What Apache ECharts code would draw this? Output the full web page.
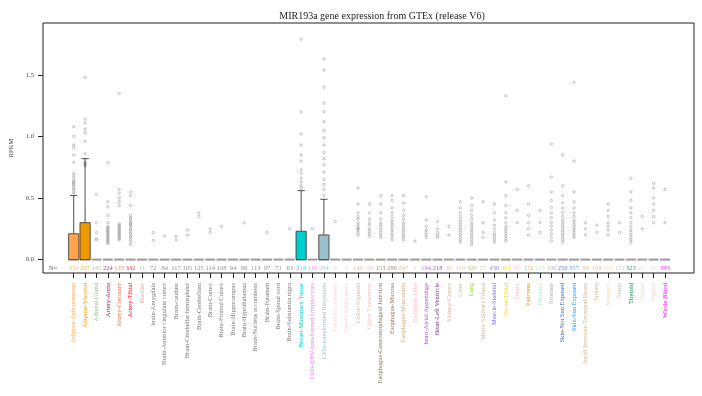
<!DOCTYPE html>
<html>
<head>
<meta charset="utf-8">
<script src="https://cdn.jsdelivr.net/npm/echarts@6/dist/echarts.min.js"></script>
<style>
  html, body { margin: 0; padding: 0; background: #fff; }
  #chart { width: 702px; height: 396px; }
</style>
</head>
<body>
<div id="chart"></div>
<script>
// Tejidos GTEx V6 y su numero de muestras
const tissues = [
  'Adipose-Subcutaneous', 'Adipose-Visceral', 'Adrenal Gland', 'Artery-Aorta', 'Artery-Coronary',
  'Artery-Tibial', 'Bladder', 'brain-Amygdala', 'Brain-Anterior cingulate cortex', 'Brain-caudate',
  'Brain-Cerebellar hemisphere', 'Brain-Cerebellum', 'Brain-Cortex', 'Brain-Frontal Cortex', 'Brain-Hippocampus',
  'Brain-Hypothalamus', 'Brain-Nucleus accumbens', 'Brain-Putamen', 'Brain-Spinal cord', 'Brain-Substantia nigra',
  'Breast-Mammary Tissue', 'Cells-EBV-transformed lymphocytes', 'Cells-transformed fibroblasts', 'Cervix-Ectocervix', 'Cervix-Endocervix',
  'Colon-Sigmoid', 'Colon-Transverse', 'Esophagus-Gastroesophageal Junction', 'Esophagus-Mucosa', 'Esophagus-Muscularis',
  'Fallopian Tube', 'heart-Atrial Appendage', 'Heart-Left Ventricle', 'Kidney-Cortex', 'Liver',
  'Lung', 'Minor Salivary Gland', 'Muscle-Skeletal', 'Nerve-Tibial', 'Ovary',
  'Pancreas', 'Pituitary', 'Prostate', 'Skin-Not Sun Exposed', 'Skin-Sun Exposed',
  'Small Intestine-Terminal Ileum', 'Spleen', 'Stomach', 'Testis', 'Thyroid',
  'Uterus', 'Vagina', 'Whole Blood'
];
const sampleN = [
  350, 227, 145, 224, 133, 332, 11, 72, 84, 117,
  105, 125, 114, 108, 94, 96, 113, 97, 71, 63,
  214, 118, 284, 6, 5, 149, 196, 153, 286, 247,
  6, 194, 218, 32, 119, 320, 57, 430, 304, 97,
  171, 103, 106, 250, 357, 88, 104, 193, 172, 323,
  83, 96, 393
];
const tissueColors = [
  '#FFA54F', '#EE9A00', '#8FBC8F', '#8B1C62', '#EE6A50',
  '#FF0000', '#CDB79E', '#777777', '#777777', '#777777',
  '#777777', '#777777', '#777777', '#777777', '#777777',
  '#777777', '#777777', '#777777', '#777777', '#777777',
  '#00CDCD', '#EE82EE', '#9AC0CD', '#EED5D2', '#EED5D2',
  '#CDB79E', '#EEC5C1', '#8B7355', '#8B7355', '#CDAA7D',
  '#FFB6C1', '#B452CD', '#7A378B', '#CDB79E', '#CDB79E',
  '#9ACD32', '#CDB79E', '#7A67EE', '#FFD700', '#FFB6C1',
  '#CD9B1D', '#B4EEB4', '#A9A9A9', '#3A5FCD', '#1E90FF',
  '#CDB79E', '#CDB79E', '#FFD39B', '#C0C0C0', '#008B45',
  '#EED5D2', '#EED5D2', '#FF00FF'
];
// Media (RPKM) y extremo de la barra de error, solo donde hay barra
const meanRPKM = { 0: 0.21, 1: 0.30, 20: 0.23, 22: 0.20 };
const errorTop = { 0: 0.52, 1: 0.82, 20: 0.56, 22: 0.49 };
// Puntos individuales por tejido
const outliers = [
  [1.08, 1.0, 0.93, 0.91, 0.85, 0.79, 0.70, 0.68, 0.66, 0.64, 0.63, 0.62, 0.61, 0.60, 0.58, 0.57, 0.55, 0.54],
  [1.48, 1.14, 1.11, 1.06, 1.03, 0.96, 0.86, 0.79, 0.78, 0.77, 0.76],
  [0.53, 0.30, 0.22, 0.17, 0.16],
  [0.79, 0.47, 0.43, 0.36, 0.30, 0.27, 0.26, 0.25, 0.24, 0.23, 0.22, 0.21, 0.20, 0.19, 0.18, 0.17, 0.16, 0.15, 0.14, 0.13],
  [1.35, 0.57, 0.54, 0.50, 0.47, 0.44, 0.29, 0.28, 0.27, 0.26, 0.25, 0.24, 0.23, 0.22, 0.21, 0.20, 0.19, 0.18, 0.17, 0.16],
  [0.55, 0.52, 0.44, 0.36, 0.34, 0.33, 0.31, 0.30, 0.29, 0.28, 0.27, 0.25, 0.24, 0.22, 0.21, 0.19, 0.18, 0.16, 0.14, 0.12],
  [],
  [0.22, 0.155],
  [0.19],
  [0.19, 0.16],
  [0.24, 0.20],
  [0.38, 0.35],
  [0.25, 0.22],
  [0.27],
  [],
  [0.30],
  [],
  [0.22],
  [],
  [0.25],
  [1.79, 1.20, 1.02, 0.93, 0.85, 0.80, 0.73, 0.70, 0.66, 0.63, 0.60, 0.58],
  [0.25],
  [1.63, 1.54, 1.40, 1.27, 1.20, 1.12, 1.05, 0.99, 0.93, 0.87, 0.82, 0.77, 0.71, 0.65, 0.61, 0.57, 0.52],
  [0.31],
  [],
  [0.58, 0.45, 0.38, 0.35, 0.33, 0.30, 0.28, 0.26, 0.25, 0.24, 0.22, 0.20],
  [0.45, 0.38, 0.33, 0.30, 0.28, 0.25, 0.23, 0.21, 0.19],
  [0.52, 0.45, 0.38, 0.33, 0.30, 0.28, 0.26, 0.24, 0.22, 0.20, 0.18],
  [0.52, 0.48, 0.42, 0.38, 0.35, 0.32, 0.30, 0.28, 0.26, 0.24, 0.22, 0.20, 0.18, 0.16],
  [0.52, 0.46, 0.40, 0.36, 0.33, 0.30, 0.28, 0.26, 0.24, 0.22, 0.20, 0.18, 0.16],
  [0.15],
  [0.51, 0.32, 0.27, 0.24, 0.22, 0.20, 0.18],
  [0.31, 0.25, 0.22, 0.20, 0.18],
  [0.27, 0.20],
  [0.47, 0.42, 0.38, 0.35, 0.32, 0.30, 0.28, 0.26, 0.24, 0.22, 0.20, 0.18, 0.16, 0.14],
  [0.50, 0.44, 0.40, 0.36, 0.33, 0.30, 0.28, 0.26, 0.24, 0.22, 0.20, 0.18, 0.16, 0.14, 0.12],
  [0.47, 0.30, 0.22, 0.18],
  [0.45, 0.38, 0.32, 0.28, 0.25, 0.22, 0.20, 0.18, 0.16, 0.14],
  [1.33, 0.63, 0.52, 0.44, 0.38, 0.34, 0.30, 0.27, 0.25, 0.23, 0.21, 0.19, 0.17, 0.15],
  [0.57, 0.40, 0.30],
  [0.60, 0.45, 0.36, 0.30, 0.25, 0.20],
  [0.40, 0.30, 0.22],
  [0.94, 0.67, 0.55, 0.48, 0.42, 0.38, 0.34, 0.30, 0.27, 0.24, 0.21, 0.18, 0.15],
  [0.85, 0.60, 0.52, 0.46, 0.42, 0.38, 0.35, 0.32, 0.30, 0.28, 0.26, 0.24, 0.22, 0.20, 0.18, 0.16, 0.14],
  [1.44, 0.80, 0.55, 0.47, 0.42, 0.38, 0.35, 0.32, 0.30, 0.28, 0.26, 0.24, 0.22, 0.20, 0.18],
  [0.30, 0.25, 0.20],
  [0.28, 0.22],
  [0.45, 0.40, 0.35, 0.30, 0.27, 0.24, 0.20],
  [0.30, 0.22],
  [0.66, 0.55, 0.48, 0.42, 0.38, 0.34, 0.30, 0.27, 0.24, 0.22, 0.20, 0.18, 0.16, 0.14],
  [0.35, 0.25],
  [0.62, 0.58, 0.50, 0.45, 0.40, 0.35, 0.30],
  [0.57, 0.30]
];
const yTicks = [0, 0.5, 1.0, 1.5];

const font = 'Liberation Serif';
const idx = tissues.map((t, i) => i);

const barData = Object.keys(meanRPKM).map(k => [Number(k), meanRPKM[k], errorTop[k]]);
const pointData = [];
outliers.forEach((vals, i) => vals.forEach(v => pointData.push([i, v])));
const nData = sampleN.map((n, i) => ({
  value: [i, -0.07, n],
  label: { color: tissueColors[i] }
}));
nData.push({ value: [-1.8, -0.07, 'N='], label: { color: '#444' } });

const chart = echarts.init(document.getElementById('chart'));
chart.setOption({
  animation: false,
  title: {
    text: 'MIR193a gene expression from GTEx (release V6)',
    left: 377, top: 6, textAlign: 'center',
    textStyle: { fontFamily: font, fontSize: 10, fontWeight: 'normal', color: '#222' }
  },
  grid: {
    left: 42, right: 8, top: 23, bottom: 123,
    show: true, borderColor: '#222', borderWidth: 1, backgroundColor: 'transparent'
  },
  xAxis: {
    type: 'value', min: -2.7, max: 54.55,
    splitLine: { show: false },
    axisLine: { show: false, onZero: false },
    axisTick: { show: true, length: 5, customValues: idx, lineStyle: { color: '#222' } },
    axisLabel: {
      customValues: idx, rotate: 90, margin: 10,
      fontFamily: font, fontSize: 6.5,
      formatter: v => tissues[Math.round(v)] || '',
      color: v => tissueColors[Math.round(Number(v))]
    }
  },
  yAxis: {
    type: 'value', min: -0.109, max: 1.922,
    name: 'RPKM', nameLocation: 'middle', nameGap: 28, nameRotate: 90,
    nameTextStyle: { fontFamily: font, fontSize: 6.5, color: '#333' },
    splitLine: { show: false },
    axisLine: { show: false, onZero: false },
    axisTick: { show: true, length: 5, customValues: yTicks, lineStyle: { color: '#222' } },
    axisLabel: {
      customValues: yTicks, margin: 9,
      fontFamily: font, fontSize: 6.5, color: '#444',
      formatter: v => Number(v).toFixed(1)
    }
  },
  series: [
    {
      // guiones grises en cero para cada tejido
      type: 'custom',
      data: idx.map(i => [i, 0]),
      z: 1,
      renderItem: (params, api) => {
        const a = api.coord([api.value(0) - 0.44, 0]);
        const b = api.coord([api.value(0) + 0.44, 0]);
        return { type: 'rect', shape: { x: a[0], y: a[1] - 1, width: b[0] - a[0], height: 2 }, style: { fill: '#9a9a9a' } };
      }
    },
    {
      type: 'scatter',
      data: pointData,
      symbol: 'circle', symbolSize: 2.4,
      z: 2,
      itemStyle: { color: 'rgba(255,255,255,0)', borderColor: '#999999', borderWidth: 0.7 }
    },
    {
      // barras con barra de error
      type: 'custom',
      data: barData,
      z: 3,
      renderItem: (params, api) => {
        const i = api.value(0);
        const top = api.coord([i - 0.45, api.value(1)]);
        const base = api.coord([i + 0.45, 0]);
        const mid = api.coord([i, api.value(1)]);
        const err = api.coord([i, api.value(2)]);
        const capL = api.coord([i - 0.32, api.value(2)]);
        const capR = api.coord([i + 0.32, api.value(2)]);
        return {
          type: 'group',
          children: [
            { type: 'line', shape: { x1: mid[0], y1: mid[1], x2: err[0], y2: err[1] }, style: { stroke: '#222', lineWidth: 0.8 } },
            { type: 'line', shape: { x1: capL[0], y1: capL[1], x2: capR[0], y2: capR[1] }, style: { stroke: '#222', lineWidth: 0.8 } },
            { type: 'rect', shape: { x: top[0], y: top[1], width: base[0] - top[0], height: base[1] - top[1] },
              style: { fill: tissueColors[i], stroke: '#333', lineWidth: 0.8 } }
          ]
        };
      }
    },
    {
      type: 'scatter',
      data: nData,
      symbolSize: 0,
      z: 4,
      label: {
        show: true, position: 'inside',
        fontFamily: font, fontSize: 6.5,
        formatter: p => p.value[2]
      }
    }
  ]
});
</script>
</body>
</html>
